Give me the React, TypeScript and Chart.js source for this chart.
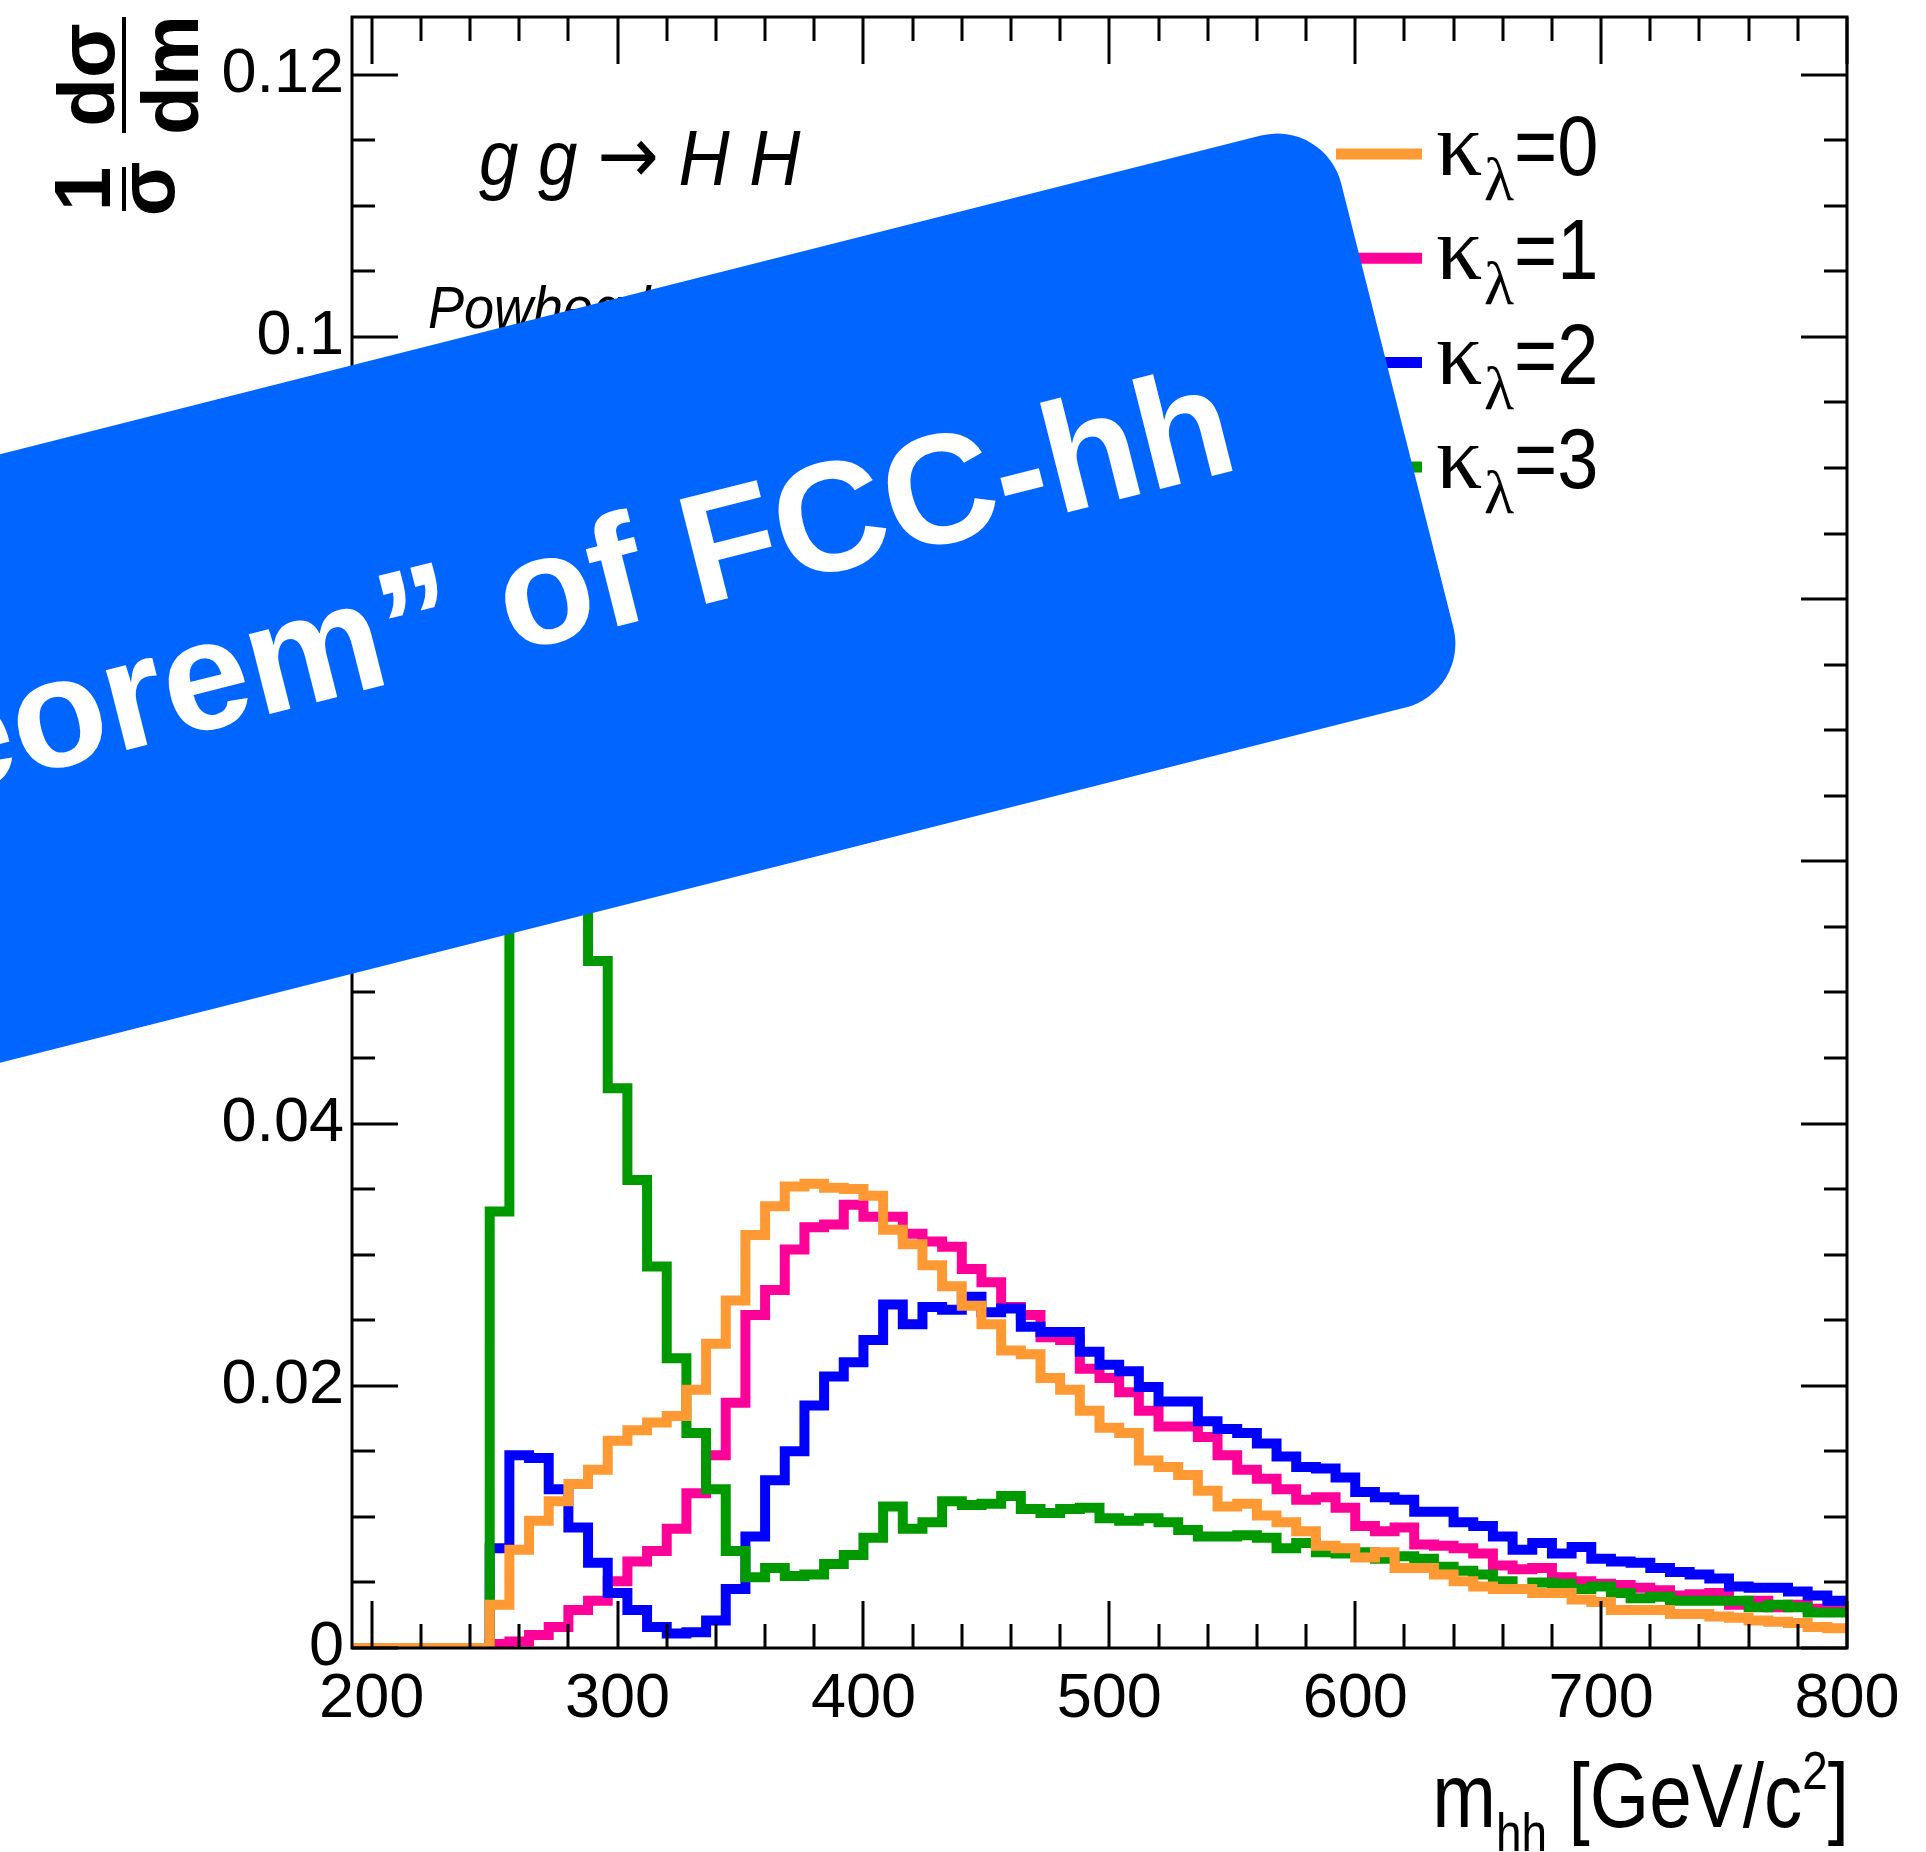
import React, { useEffect, useRef } from 'react';
import { Chart, registerables } from 'chart.js';

Chart.register(...registerables);

// ---- axis definition ----
const X_MIN = 192;
const X_MAX = 800;
const BIN_WIDTH = 8;
const Y_MAX = 0.1244;
const xTickLabels = [200, 300, 400, 500, 600, 700, 800];
const yTickLabels = [0, 0.02, 0.04, 0.06, 0.08, 0.1, 0.12];
const X_MINOR_STEP = 20;
const Y_MINOR_STEP = 0.005;

// ---- series (one value per 8 GeV bin, 192..800) ----
const seriesNames = ['0', '1', '2', '3'];
const seriesColors = ['#ff9933', '#ff0099', '#0000ff', '#009900'];

const kappa0 = [
  0, 0, 0, 0, 0, 0, 0,
  0.0033, 0.0075, 0.0097, 0.0112, 0.0125, 0.0136, 0.0158, 0.0166, 0.0172, 0.0177,
  0.0197, 0.0232, 0.0265, 0.0315, 0.0337, 0.0352, 0.0354, 0.0351, 0.0350, 0.0345,
  0.0319, 0.0308, 0.0292, 0.0276, 0.0261, 0.0247, 0.0227, 0.0224, 0.0206, 0.0197,
  0.0181, 0.0168, 0.0164, 0.0143, 0.0138, 0.0132, 0.0120, 0.0108, 0.0110, 0.0101,
  0.0096, 0.0089, 0.0078, 0.0076, 0.0069, 0.0073, 0.0061, 0.0061, 0.0056, 0.0051,
  0.0047, 0.0045, 0.0045, 0.0042, 0.0042, 0.0037, 0.0035, 0.0029, 0.0029, 0.0029,
  0.0026, 0.0026, 0.0024, 0.0023, 0.0021, 0.0020, 0.0019, 0.0016, 0.0015,
];

const kappa1 = [
  0, 0, 0, 0, 0, 0, 0,
  0.0003, 0.0005, 0.0010, 0.0016, 0.0029, 0.0036, 0.0051, 0.0066, 0.0074, 0.0091,
  0.0118, 0.0147, 0.0187, 0.0254, 0.0273, 0.0304, 0.0321, 0.0323, 0.0338, 0.0329,
  0.0329, 0.0316, 0.0310, 0.0306, 0.0289, 0.0279, 0.0260, 0.0254, 0.0237, 0.0235,
  0.0213, 0.0206, 0.0195, 0.0181, 0.0169, 0.0169, 0.0161, 0.0147, 0.0136, 0.0129,
  0.0121, 0.0113, 0.0115, 0.0107, 0.0093, 0.0089, 0.0092, 0.0079, 0.0078, 0.0076,
  0.0072, 0.0063, 0.0060, 0.0061, 0.0054, 0.0051, 0.0049, 0.0048, 0.0046, 0.0044,
  0.0040, 0.0041, 0.0042, 0.0033, 0.0036, 0.0031, 0.0033, 0.0030, 0.0029,
];

const kappa2 = [
  0, 0, 0, 0, 0, 0, 0,
  0.0076, 0.0147, 0.0145, 0.0121, 0.0092, 0.0065, 0.0042, 0.0029, 0.0016, 0.0011,
  0.0012, 0.0021, 0.0045, 0.0085, 0.0128, 0.0150, 0.0185, 0.0207, 0.0218, 0.0235,
  0.0262, 0.0247, 0.0260, 0.0258, 0.0268, 0.0256, 0.0259, 0.0245, 0.0241, 0.0241,
  0.0226, 0.0216, 0.0211, 0.0199, 0.0188, 0.0188, 0.0173, 0.0167, 0.0164, 0.0156,
  0.0146, 0.0138, 0.0137, 0.0130, 0.0119, 0.0115, 0.0113, 0.0104, 0.0104, 0.0096,
  0.0093, 0.0085, 0.0075, 0.0080, 0.0072, 0.0077, 0.0068, 0.0066, 0.0065, 0.0061,
  0.0058, 0.0056, 0.0053, 0.0047, 0.0046, 0.0046, 0.0043, 0.0040, 0.0036,
];

const kappa3 = [
  0, 0, 0, 0, 0, 0, 0,
  0.0333, 0.0800, 0.0950, 0.0870, 0.0680, 0.0524, 0.0427, 0.0357, 0.0291, 0.0221,
  0.0164, 0.0121, 0.0074, 0.0054, 0.0061, 0.0055, 0.0056, 0.0064, 0.0071, 0.0084,
  0.0108, 0.0091, 0.0096, 0.0112, 0.0109, 0.0110, 0.0116, 0.0106, 0.0103, 0.0106,
  0.0107, 0.0099, 0.0097, 0.0099, 0.0096, 0.0090, 0.0085, 0.0085, 0.0086, 0.0084,
  0.0076, 0.0080, 0.0073, 0.0072, 0.0073, 0.0068, 0.0070, 0.0068, 0.0062, 0.0059,
  0.0056, 0.0051, 0.0045, 0.0050, 0.0049, 0.0045, 0.0047, 0.0042, 0.0038, 0.0039,
  0.0036, 0.0036, 0.0036, 0.0036, 0.0031, 0.0033, 0.0031, 0.0027, 0.0027,
];

const seriesValues = [kappa0, kappa1, kappa2, kappa3];
const drawOrder = [0, 3, 2, 1]; // orange on top, then green, blue, pink

const processLabel = ['g g ', '\u2192', ' H H'];
const generatorLabel = 'Powheg box';
const bannerText = '\u201CNo-lose theorem\u201D of FCC-hh';

const FONT_SANS = '"Liberation Sans", Arial, Helvetica, sans-serif';
const FONT_SERIF = '"Liberation Serif", "DejaVu Serif", serif';
const FONT_ARROW = '"DejaVu Sans", "Liberation Sans", sans-serif';

type Run = { text: string; font: string; dy?: number };

function drawRuns(ctx: CanvasRenderingContext2D, runs: Run[], x: number, y: number, align: 'left' | 'right' | 'center', sx: number) {
  ctx.save();
  ctx.textAlign = 'left';
  ctx.textBaseline = 'alphabetic';
  const widths = runs.map((r) => {
    ctx.font = r.font;
    return ctx.measureText(r.text).width;
  });
  const total = widths.reduce((a, b) => a + b, 0) * sx;
  const start = align === 'right' ? x - total : align === 'center' ? x - total / 2 : x;
  ctx.translate(start, y);
  ctx.scale(sx, 1);
  let cx = 0;
  runs.forEach((r, i) => {
    ctx.font = r.font;
    ctx.fillText(r.text, cx, r.dy || 0);
    cx += widths[i];
  });
  ctx.restore();
}

function roundRectPath(ctx: CanvasRenderingContext2D, x: number, y: number, w: number, h: number, r: number) {
  ctx.beginPath();
  ctx.moveTo(x + r, y);
  ctx.lineTo(x + w - r, y);
  ctx.arcTo(x + w, y, x + w, y + r, r);
  ctx.lineTo(x + w, y + h - r);
  ctx.arcTo(x + w, y + h, x + w - r, y + h, r);
  ctx.lineTo(x + r, y + h);
  ctx.arcTo(x, y + h, x, y + h - r, r);
  ctx.lineTo(x, y + r);
  ctx.arcTo(x, y, x + r, y, r);
  ctx.closePath();
}

const rootStylePlugin = {
  id: 'rootStyle',
  afterDatasetsDraw(chart: any) {
    const { ctx, chartArea: a, scales } = chart;
    const xs = scales.x;
    const ys = scales.y;
    ctx.save();
    ctx.strokeStyle = '#000';
    ctx.lineWidth = 3;
    ctx.lineCap = 'butt';
    ctx.beginPath();
    for (let v = xTickLabels[0]; v <= X_MAX + 1e-6; v += X_MINOR_STEP) {
      const px = Math.round(xs.getPixelForValue(v));
      const major = xTickLabels.includes(v);
      const len = major ? 47 : 24;
      ctx.moveTo(px, a.bottom);
      ctx.lineTo(px, a.bottom - len);
      ctx.moveTo(px, a.top);
      ctx.lineTo(px, a.top + len);
    }
    const nY = Math.round(yTickLabels[yTickLabels.length - 1] / Y_MINOR_STEP);
    for (let i = 0; i <= nY; i++) {
      const v = i * Y_MINOR_STEP;
      const py = Math.round(ys.getPixelForValue(v));
      const len = i % 4 === 0 ? 46 : 23;
      ctx.moveTo(a.left, py);
      ctx.lineTo(a.left + len, py);
      ctx.moveTo(a.right, py);
      ctx.lineTo(a.right - len, py);
    }
    ctx.stroke();
    ctx.strokeRect(a.left, a.top, a.right - a.left, a.bottom - a.top);
    ctx.restore();
  },
  afterDraw(chart: any) {
    const { ctx } = chart;
    ctx.save();
    ctx.fillStyle = '#000';

    // process label and generator label
    drawRuns(
      ctx,
      [
        { text: processLabel[0], font: `italic 77px ${FONT_SANS}` },
        { text: processLabel[1], font: `80px ${FONT_ARROW}`, dy: -2 },
        { text: processLabel[2], font: `italic 77px ${FONT_SANS}` },
      ],
      479,
      185,
      'left',
      0.92,
    );
    drawRuns(ctx, [{ text: generatorLabel, font: `italic 60px ${FONT_SANS}` }], 428, 328, 'left', 0.9);

    // legend
    const legY0 = 154;
    const legDy = 104.3;
    seriesNames.forEach((name, i) => {
      const y = legY0 + i * legDy;
      ctx.strokeStyle = seriesColors[i];
      ctx.lineWidth = 11;
      ctx.beginPath();
      ctx.moveTo(1336, y);
      ctx.lineTo(1422, y);
      ctx.stroke();
      ctx.fillStyle = '#000';
      drawRuns(ctx, [{ text: '\u03BA', font: `92px ${FONT_SERIF}` }], 1436, y + 21, 'left', 1);
      drawRuns(ctx, [{ text: '\u03BB', font: `62px ${FONT_SERIF}` }], 1484, y + 46, 'left', 1);
      drawRuns(ctx, [{ text: '=' + name, font: `86px ${FONT_SANS}` }], 1514, y + 21, 'left', 0.86);
    });

    // x axis title
    drawRuns(
      ctx,
      [
        { text: 'm', font: `90px ${FONT_SANS}` },
        { text: 'hh', font: `54px ${FONT_SANS}`, dy: 24 },
        { text: ' [GeV/c', font: `90px ${FONT_SANS}` },
        { text: '2', font: `54px ${FONT_SANS}`, dy: -38 },
        { text: ']', font: `90px ${FONT_SANS}` },
      ],
      1849,
      1827,
      'right',
      0.85,
    );

    // y axis title: 1/sigma dsigma/dm (rotated)
    ctx.save();
    ctx.translate(124, 211);
    ctx.rotate(-Math.PI / 2);
    ctx.fillStyle = '#000';
    ctx.fillRect(0, -2, 44, 4);
    ctx.fillRect(78, -2, 116, 4);
    const yFont = `bold 80px ${FONT_SANS}`;
    drawRuns(ctx, [{ text: '1', font: yFont }], 22, -14, 'center', 1);
    drawRuns(ctx, [{ text: '\u03C3', font: yFont }], 22, 50, 'center', 1);
    drawRuns(ctx, [{ text: 'd\u03C3', font: yFont }], 136, -10, 'center', 1);
    drawRuns(ctx, [{ text: 'dm', font: yFont }], 136, 74, 'center', 1);
    ctx.restore();

    // banner overlay
    const theta = (14.18 * Math.PI) / 180;
    ctx.save();
    ctx.translate(1325, 119.4);
    ctx.rotate(-theta);
    ctx.fillStyle = '#0066ff';
    roundRectPath(ctx, -2600, 0, 2600, 590, 66);
    ctx.fill();
    ctx.fillStyle = '#ffffff';
    ctx.font = `bold 156px ${FONT_SANS}`;
    ctx.textAlign = 'right';
    ctx.textBaseline = 'alphabetic';
    ctx.fillText(bannerText, -166, 318);
    ctx.restore();

    ctx.restore();
  },
};

export default function App() {
  const canvasRef = useRef<HTMLCanvasElement | null>(null);

  useEffect(() => {
    const canvas = canvasRef.current;
    if (!canvas) return;
    const nBins = (X_MAX - X_MIN) / BIN_WIDTH;
    const edges = Array.from({ length: nBins + 1 }, (_, i) => X_MIN + i * BIN_WIDTH);
    const datasets = seriesValues.map((vals, i) => ({
      label: '\u03BA\u03BB=' + seriesNames[i],
      data: [...vals.map((v, k) => ({ x: edges[k], y: v })), { x: edges[nBins], y: vals[vals.length - 1] }],
      borderColor: seriesColors[i],
      backgroundColor: seriesColors[i],
      borderWidth: 10,
      borderJoinStyle: 'miter' as const,
      borderCapStyle: 'butt' as const,
      stepped: 'before' as const,
      pointRadius: 0,
      fill: false,
      order: drawOrder.indexOf(i),
    }));

    const tickFont = { family: FONT_SANS, size: 63 };
    const chart = new Chart(canvas, {
      type: 'line',
      data: { datasets },
      plugins: [rootStylePlugin],
      options: {
        responsive: false,
        animation: false,
        devicePixelRatio: 1,
        layout: { padding: { left: 0, top: 17, right: 79, bottom: 0 } },
        plugins: {
          legend: { display: false },
          tooltip: { enabled: false },
          title: { display: false },
        },
        scales: {
          x: {
            type: 'linear',
            min: X_MIN,
            max: X_MAX,
            grid: { display: false, drawTicks: false },
            border: { display: false },
            afterBuildTicks: (s: any) => {
              s.ticks = xTickLabels.map((v) => ({ value: v }));
            },
            afterFit: (s: any) => {
              s.height = 204;
              s.paddingLeft = 0;
              s.paddingRight = 0;
              s.paddingTop = 0;
              s.paddingBottom = 0;
            },
            ticks: {
              color: '#000',
              font: tickFont,
              padding: 14,
              maxRotation: 0,
              minRotation: 0,
              autoSkip: false,
              callback: (v: any) => String(v),
            },
          },
          y: {
            type: 'linear',
            min: 0,
            max: Y_MAX,
            grid: { display: false, drawTicks: false },
            border: { display: false },
            afterBuildTicks: (s: any) => {
              s.ticks = yTickLabels.map((v) => ({ value: v }));
            },
            afterFit: (s: any) => {
              s.width = 352;
              s.paddingLeft = 0;
              s.paddingRight = 0;
              s.paddingTop = 0;
              s.paddingBottom = 0;
            },
            ticks: {
              color: '#000',
              font: tickFont,
              padding: 8,
              autoSkip: false,
              callback: (v: any) => String(Math.round(Number(v) * 1000) / 1000),
            },
          },
        },
      },
    });
    return () => chart.destroy();
  }, []);

  return (
    <div style={{ position: 'fixed', left: 0, top: 0, width: 1926, height: 1852, background: '#ffffff' }}>
      <canvas ref={canvasRef} width={1926} height={1852} style={{ display: 'block', width: '1926px', height: '1852px' }} />
    </div>
  );
}
